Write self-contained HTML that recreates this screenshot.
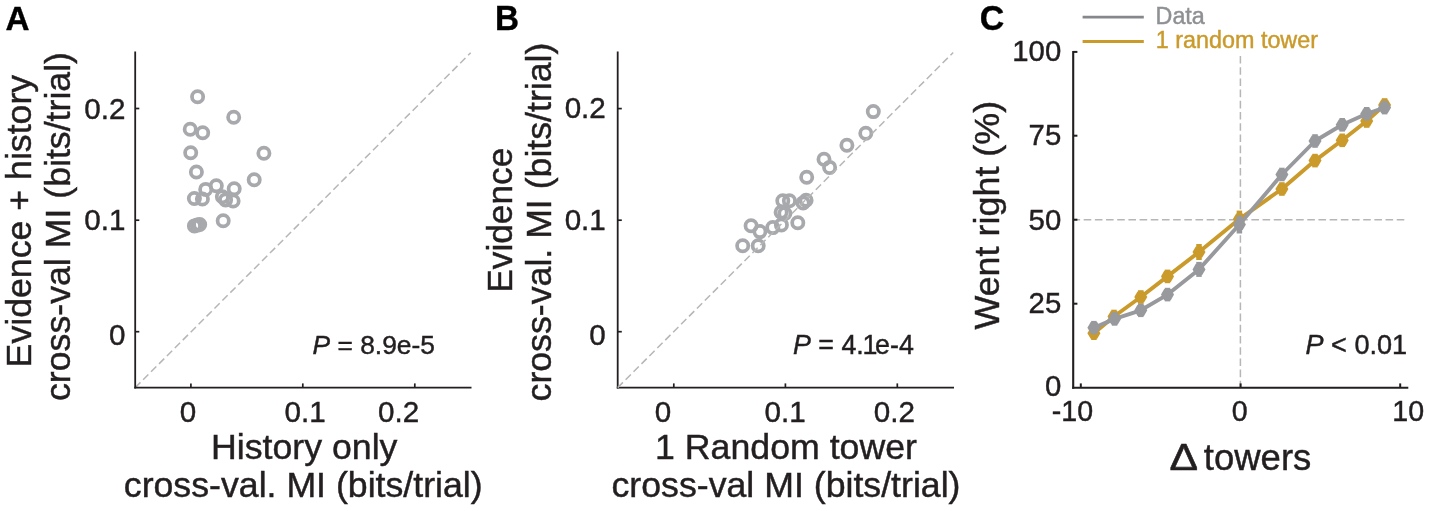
<!DOCTYPE html>
<html><head><meta charset="utf-8"><title>Figure</title>
<style>
html,body{margin:0;padding:0;background:#fff;}
svg{display:block;font-family:"Liberation Sans",sans-serif;}
</style></head><body>
<svg width="1429" height="511" viewBox="0 0 1429 511">
<rect width="1429" height="511" fill="#fff"/>
<text font-size="33.3" font-weight="bold" fill="#000" stroke="#000" stroke-width="0.35" transform="translate(5.6 29.9) scale(1 1.01)">A</text>
<line x1="135.2" y1="387.6" x2="470.7" y2="52.7" stroke="#b6b6b6" stroke-width="1.5" stroke-dasharray="7.4 3.8"/>
<line x1="135.2" y1="51.5" x2="135.2" y2="388.5" stroke="#231f20" stroke-width="1.8"/>
<line x1="134.3" y1="387.6" x2="471.5" y2="387.6" stroke="#231f20" stroke-width="1.8"/>
<line x1="135.2" y1="108.5" x2="139.3" y2="108.5" stroke="#231f20" stroke-width="1.7"/>
<line x1="135.2" y1="220.2" x2="139.3" y2="220.2" stroke="#231f20" stroke-width="1.7"/>
<line x1="135.2" y1="331.7" x2="139.3" y2="331.7" stroke="#231f20" stroke-width="1.7"/>
<line x1="190.9" y1="387.6" x2="190.9" y2="383.4" stroke="#231f20" stroke-width="1.7"/>
<line x1="302.8" y1="387.6" x2="302.8" y2="383.4" stroke="#231f20" stroke-width="1.7"/>
<line x1="414.8" y1="387.6" x2="414.8" y2="383.4" stroke="#231f20" stroke-width="1.7"/>
<text x="125.5" y="119.2" font-size="29.6" text-anchor="end" font-weight="normal" fill="#231f20" stroke="#231f20" stroke-width="0.45">0.2</text>
<text x="125.5" y="229.9" font-size="29.6" text-anchor="end" font-weight="normal" fill="#231f20" stroke="#231f20" stroke-width="0.45">0.1</text>
<text x="125.5" y="345" font-size="29.6" text-anchor="end" font-weight="normal" fill="#231f20" stroke="#231f20" stroke-width="0.45">0</text>
<text x="188" y="422" font-size="29.6" text-anchor="middle" font-weight="normal" fill="#231f20" stroke="#231f20" stroke-width="0.45">0</text>
<text x="305.1" y="421.6" font-size="29.6" text-anchor="middle" font-weight="normal" fill="#231f20" stroke="#231f20" stroke-width="0.45">0.1</text>
<text x="398.6" y="421.6" font-size="29.6" text-anchor="middle" font-weight="normal" fill="#231f20" stroke="#231f20" stroke-width="0.45">0.2</text>
<text x="304.25" y="459.2" font-size="35.7" text-anchor="middle" font-weight="normal" fill="#231f20" stroke="#231f20" stroke-width="0.45">History only</text>
<text x="303.25" y="497.3" font-size="35.7" text-anchor="middle" font-weight="normal" fill="#231f20" stroke="#231f20" stroke-width="0.45">cross-val. MI (bits/trial)</text>
<text x="31.5" y="221.1" font-size="35.7" text-anchor="middle" font-weight="normal" fill="#231f20" stroke="#231f20" stroke-width="0.45" transform="rotate(-90 31.5 221.1)">Evidence + history</text>
<text x="70" y="226.5" font-size="35.7" text-anchor="middle" font-weight="normal" fill="#231f20" stroke="#231f20" stroke-width="0.45" transform="rotate(-90 70 226.5)">cross-val MI (bits/trial)</text>
<text x="312.6" y="354.4" font-size="26.35" text-anchor="start" font-weight="normal" fill="#231f20" stroke="#231f20" stroke-width="0.45"><tspan font-style="italic">P</tspan> = 8.9e-5</text>
<circle cx="197.6" cy="96.8" r="5.62" fill="none" stroke="#a7a9ac" stroke-width="3.75"/>
<circle cx="233.7" cy="117.2" r="5.62" fill="none" stroke="#a7a9ac" stroke-width="3.75"/>
<circle cx="190.2" cy="129.3" r="5.62" fill="none" stroke="#a7a9ac" stroke-width="3.75"/>
<circle cx="202.7" cy="132.7" r="5.62" fill="none" stroke="#a7a9ac" stroke-width="3.75"/>
<circle cx="190.7" cy="152.8" r="5.62" fill="none" stroke="#a7a9ac" stroke-width="3.75"/>
<circle cx="263.9" cy="153.2" r="5.62" fill="none" stroke="#a7a9ac" stroke-width="3.75"/>
<circle cx="196.4" cy="172.0" r="5.62" fill="none" stroke="#a7a9ac" stroke-width="3.75"/>
<circle cx="254.2" cy="179.8" r="5.62" fill="none" stroke="#a7a9ac" stroke-width="3.75"/>
<circle cx="216.3" cy="185.8" r="5.62" fill="none" stroke="#a7a9ac" stroke-width="3.75"/>
<circle cx="205.7" cy="189.4" r="5.62" fill="none" stroke="#a7a9ac" stroke-width="3.75"/>
<circle cx="234.2" cy="188.8" r="5.62" fill="none" stroke="#a7a9ac" stroke-width="3.75"/>
<circle cx="194.4" cy="198.5" r="5.62" fill="none" stroke="#a7a9ac" stroke-width="3.75"/>
<circle cx="202.4" cy="199.0" r="5.62" fill="none" stroke="#a7a9ac" stroke-width="3.75"/>
<circle cx="222.4" cy="196.8" r="5.62" fill="none" stroke="#a7a9ac" stroke-width="3.75"/>
<circle cx="225.6" cy="199.9" r="5.62" fill="none" stroke="#a7a9ac" stroke-width="3.75"/>
<circle cx="233.1" cy="201.0" r="5.62" fill="none" stroke="#a7a9ac" stroke-width="3.75"/>
<circle cx="223.2" cy="220.7" r="5.62" fill="none" stroke="#a7a9ac" stroke-width="3.75"/>
<circle cx="194.4" cy="225.9" r="5.62" fill="none" stroke="#a7a9ac" stroke-width="3.75"/>
<circle cx="197.2" cy="225.1" r="5.62" fill="none" stroke="#a7a9ac" stroke-width="3.75"/>
<circle cx="199.7" cy="224.5" r="5.62" fill="none" stroke="#a7a9ac" stroke-width="3.75"/>
<text font-size="33.3" font-weight="bold" fill="#000" stroke="#000" stroke-width="0.35" transform="translate(494.9 29.6) scale(1 1.045)">B</text>
<line x1="617.7" y1="51.5" x2="617.7" y2="388.5" stroke="#231f20" stroke-width="1.8"/>
<line x1="616.8" y1="387.6" x2="954" y2="387.6" stroke="#231f20" stroke-width="1.8"/>
<line x1="617.7" y1="108.6" x2="621.8" y2="108.6" stroke="#231f20" stroke-width="1.7"/>
<line x1="617.7" y1="220.2" x2="621.8" y2="220.2" stroke="#231f20" stroke-width="1.7"/>
<line x1="617.7" y1="331.7" x2="621.8" y2="331.7" stroke="#231f20" stroke-width="1.7"/>
<line x1="673.8" y1="387.6" x2="673.8" y2="383.4" stroke="#231f20" stroke-width="1.7"/>
<line x1="785.4" y1="387.6" x2="785.4" y2="383.4" stroke="#231f20" stroke-width="1.7"/>
<line x1="897.3" y1="387.6" x2="897.3" y2="383.4" stroke="#231f20" stroke-width="1.7"/>
<text x="605.8" y="118.4" font-size="29.6" text-anchor="end" font-weight="normal" fill="#231f20" stroke="#231f20" stroke-width="0.45">0.2</text>
<text x="605.8" y="229.9" font-size="29.6" text-anchor="end" font-weight="normal" fill="#231f20" stroke="#231f20" stroke-width="0.45">0.1</text>
<text x="605.8" y="345" font-size="29.6" text-anchor="end" font-weight="normal" fill="#231f20" stroke="#231f20" stroke-width="0.45">0</text>
<text x="663" y="421.6" font-size="29.6" text-anchor="middle" font-weight="normal" fill="#231f20" stroke="#231f20" stroke-width="0.45">0</text>
<text x="785.1" y="421.6" font-size="29.6" text-anchor="middle" font-weight="normal" fill="#231f20" stroke="#231f20" stroke-width="0.45">0.1</text>
<text x="894.3" y="421.6" font-size="29.6" text-anchor="middle" font-weight="normal" fill="#231f20" stroke="#231f20" stroke-width="0.45">0.2</text>
<text x="786" y="459.2" font-size="35.7" text-anchor="middle" font-weight="normal" fill="#231f20" stroke="#231f20" stroke-width="0.45">1 Random tower</text>
<text x="786" y="497.3" font-size="35.7" text-anchor="middle" font-weight="normal" fill="#231f20" stroke="#231f20" stroke-width="0.45">cross-val MI (bits/trial)</text>
<text x="512" y="220.2" font-size="35.3" text-anchor="middle" font-weight="normal" fill="#231f20" stroke="#231f20" stroke-width="0.45" transform="rotate(-90 512 220.2)">Evidence</text>
<text x="551" y="222" font-size="35.7" text-anchor="middle" font-weight="normal" fill="#231f20" stroke="#231f20" stroke-width="0.45" transform="rotate(-90 551 222)">cross-val. MI (bits/trial)</text>
<text x="793" y="353.7" font-size="26.8" text-anchor="start" font-weight="normal" fill="#231f20" stroke="#231f20" stroke-width="0.45"><tspan font-style="italic">P</tspan> = 4.<tspan dx="-1.2">1</tspan><tspan dx="-2.4">e-4</tspan></text>
<circle cx="742.7" cy="245.7" r="5.62" fill="none" stroke="#a7a9ac" stroke-width="3.75"/>
<circle cx="758.2" cy="245.7" r="5.62" fill="none" stroke="#a7a9ac" stroke-width="3.75"/>
<circle cx="751.1" cy="225.8" r="5.62" fill="none" stroke="#a7a9ac" stroke-width="3.75"/>
<circle cx="759.9" cy="231.6" r="5.62" fill="none" stroke="#a7a9ac" stroke-width="3.75"/>
<circle cx="772.8" cy="227.6" r="5.62" fill="none" stroke="#a7a9ac" stroke-width="3.75"/>
<circle cx="781.4" cy="224.9" r="5.62" fill="none" stroke="#a7a9ac" stroke-width="3.75"/>
<circle cx="797.8" cy="222.8" r="5.62" fill="none" stroke="#a7a9ac" stroke-width="3.75"/>
<circle cx="781.1" cy="212.2" r="5.62" fill="none" stroke="#a7a9ac" stroke-width="3.75"/>
<circle cx="784.9" cy="213.5" r="5.62" fill="none" stroke="#a7a9ac" stroke-width="3.75"/>
<circle cx="782.8" cy="200.8" r="5.62" fill="none" stroke="#a7a9ac" stroke-width="3.75"/>
<circle cx="789.4" cy="200.8" r="5.62" fill="none" stroke="#a7a9ac" stroke-width="3.75"/>
<circle cx="803.1" cy="202.9" r="5.62" fill="none" stroke="#a7a9ac" stroke-width="3.75"/>
<circle cx="806.1" cy="200.3" r="5.62" fill="none" stroke="#a7a9ac" stroke-width="3.75"/>
<circle cx="806.7" cy="177.2" r="5.62" fill="none" stroke="#a7a9ac" stroke-width="3.75"/>
<circle cx="824.0" cy="159.2" r="5.62" fill="none" stroke="#a7a9ac" stroke-width="3.75"/>
<circle cx="829.6" cy="167.4" r="5.62" fill="none" stroke="#a7a9ac" stroke-width="3.75"/>
<circle cx="846.9" cy="145.3" r="5.62" fill="none" stroke="#a7a9ac" stroke-width="3.75"/>
<circle cx="865.8" cy="133.2" r="5.62" fill="none" stroke="#a7a9ac" stroke-width="3.75"/>
<circle cx="873.3" cy="111.6" r="5.62" fill="none" stroke="#a7a9ac" stroke-width="3.75"/>
<line x1="617.7" y1="387.6" x2="953.2" y2="52.5" stroke="#b6b6b6" stroke-width="1.5" stroke-dasharray="7.4 3.8"/>
<text font-size="33.9" font-weight="bold" fill="#000" stroke="#000" stroke-width="0.35" transform="translate(979.7 30.3) scale(1 1.045)">C</text>
<line x1="1082.6" y1="17.1" x2="1143.8" y2="17.1" stroke="#85878a" stroke-width="2.8"/>
<line x1="1082.6" y1="41.5" x2="1143.8" y2="41.5" stroke="#ca9a2b" stroke-width="2.8"/>
<text x="1155.6" y="23.5" font-size="23.3" text-anchor="start" font-weight="normal" fill="#8e9093" stroke="#8e9093" stroke-width="0.45">Data</text>
<text x="1155.8" y="47.9" font-size="23.35" text-anchor="start" font-weight="normal" fill="#ca9a2b" stroke="#ca9a2b" stroke-width="0.45">1 random tower</text>
<line x1="1240.4" y1="56" x2="1240.4" y2="387" stroke="#b6b6b6" stroke-width="1.5" stroke-dasharray="7.6 3.6"/>
<line x1="1074" y1="219.65" x2="1404.6" y2="219.65" stroke="#b6b6b6" stroke-width="1.5" stroke-dasharray="7.6 3.58" stroke-dashoffset="1.5"/>
<line x1="1073.2" y1="50.9" x2="1073.2" y2="388.7" stroke="#231f20" stroke-width="2.1"/>
<line x1="1072.2" y1="387.7" x2="1408.3" y2="387.7" stroke="#231f20" stroke-width="2.1"/>
<line x1="1073.2" y1="51.9" x2="1077.4" y2="51.9" stroke="#231f20" stroke-width="2.0"/>
<line x1="1073.2" y1="135.7" x2="1077.4" y2="135.7" stroke="#231f20" stroke-width="2.0"/>
<line x1="1073.2" y1="219.7" x2="1077.4" y2="219.7" stroke="#231f20" stroke-width="2.0"/>
<line x1="1073.2" y1="303.7" x2="1077.4" y2="303.7" stroke="#231f20" stroke-width="2.0"/>
<line x1="1080.8" y1="387.6" x2="1080.8" y2="383.4" stroke="#231f20" stroke-width="2.0"/>
<line x1="1240.6" y1="387.6" x2="1240.6" y2="383.4" stroke="#231f20" stroke-width="2.0"/>
<line x1="1400.2" y1="387.6" x2="1400.2" y2="383.4" stroke="#231f20" stroke-width="2.0"/>
<text x="1061.2" y="60.7" font-size="29.3" text-anchor="end" font-weight="normal" fill="#231f20" stroke="#231f20" stroke-width="0.45">100</text>
<text x="1061.2" y="144.9" font-size="29.3" text-anchor="end" font-weight="normal" fill="#231f20" stroke="#231f20" stroke-width="0.45">75</text>
<text x="1061.2" y="229.5" font-size="29.3" text-anchor="end" font-weight="normal" fill="#231f20" stroke="#231f20" stroke-width="0.45">50</text>
<text x="1061.2" y="312.8" font-size="29.3" text-anchor="end" font-weight="normal" fill="#231f20" stroke="#231f20" stroke-width="0.45">25</text>
<text x="1061.2" y="396.4" font-size="29.3" text-anchor="end" font-weight="normal" fill="#231f20" stroke="#231f20" stroke-width="0.45">0</text>
<text x="1072.5" y="420.8" font-size="28.6" text-anchor="middle" font-weight="normal" fill="#231f20" stroke="#231f20" stroke-width="0.45">-10</text>
<text x="1239.7" y="420.8" font-size="28.6" text-anchor="middle" font-weight="normal" fill="#231f20" stroke="#231f20" stroke-width="0.45">0</text>
<text x="1408.2" y="420.8" font-size="28.6" text-anchor="middle" font-weight="normal" fill="#231f20" stroke="#231f20" stroke-width="0.45">10</text>
<text x="999.3" y="215.2" font-size="35.9" text-anchor="middle" font-weight="normal" fill="#231f20" stroke="#231f20" stroke-width="0.45" transform="rotate(-90 999.3 215.2)">Went right (%)</text>
<text x="0" y="0" font-size="36.5" fill="#231f20" stroke="#231f20" stroke-width="0.6" transform="translate(1169.6 469.5) scale(1.17 1)">&#916;</text>
<text x="1203.8" y="469.5" font-size="36.5" text-anchor="start" font-weight="normal" fill="#231f20" stroke="#231f20" stroke-width="0.45">towers</text>
<text x="1305.5" y="354.3" font-size="27.1" text-anchor="start" font-weight="normal" fill="#231f20" stroke="#231f20" stroke-width="0.45"><tspan font-style="italic">P</tspan> &lt; 0.01</text>
<polyline fill="none" stroke="#ca9a2b" stroke-width="3.9" stroke-linejoin="round" points="1093.9,333.2 1114.0,316.5 1140.8,297.0 1167.5,276.4 1199.0,252.0 1239.4,219.1 1281.9,189.0 1315,160.6 1342.2,140.3 1366.7,121 1384.6,105"/>
<line x1="1093.9" y1="326.4" x2="1093.9" y2="340.0" stroke="#ca9a2b" stroke-width="5.5"/>
<polygon points="1100.4,333.2 1097.2,338.8 1090.7,338.8 1087.4,333.2 1090.7,327.6 1097.2,327.6" fill="#ca9a2b"/>
<line x1="1114.0" y1="309.7" x2="1114.0" y2="323.3" stroke="#ca9a2b" stroke-width="5.5"/>
<polygon points="1120.5,316.5 1117.2,322.1 1110.8,322.1 1107.5,316.5 1110.8,310.9 1117.2,310.9" fill="#ca9a2b"/>
<line x1="1140.8" y1="290.2" x2="1140.8" y2="303.8" stroke="#ca9a2b" stroke-width="5.5"/>
<polygon points="1147.3,297.0 1144.0,302.6 1137.5,302.6 1134.3,297.0 1137.5,291.4 1144.0,291.4" fill="#ca9a2b"/>
<line x1="1167.5" y1="269.59999999999997" x2="1167.5" y2="283.2" stroke="#ca9a2b" stroke-width="5.5"/>
<polygon points="1174.0,276.4 1170.8,282.0 1164.2,282.0 1161.0,276.4 1164.2,270.8 1170.8,270.8" fill="#ca9a2b"/>
<line x1="1199.0" y1="244.0" x2="1199.0" y2="260.0" stroke="#ca9a2b" stroke-width="5.5"/>
<polygon points="1205.5,252.0 1202.2,257.6 1195.8,257.6 1192.5,252.0 1195.8,246.4 1202.2,246.4" fill="#ca9a2b"/>
<line x1="1239.4" y1="210.6" x2="1239.4" y2="227.6" stroke="#ca9a2b" stroke-width="5.5"/>
<polygon points="1245.9,219.1 1242.7,224.7 1236.2,224.7 1232.9,219.1 1236.2,213.5 1242.7,213.5" fill="#ca9a2b"/>
<line x1="1281.9" y1="182.2" x2="1281.9" y2="195.8" stroke="#ca9a2b" stroke-width="5.5"/>
<polygon points="1288.4,189.0 1285.2,194.6 1278.7,194.6 1275.4,189.0 1278.7,183.4 1285.2,183.4" fill="#ca9a2b"/>
<line x1="1315" y1="153.79999999999998" x2="1315" y2="167.4" stroke="#ca9a2b" stroke-width="5.5"/>
<polygon points="1321.5,160.6 1318.2,166.2 1311.8,166.2 1308.5,160.6 1311.8,155.0 1318.2,155.0" fill="#ca9a2b"/>
<line x1="1342.2" y1="133.5" x2="1342.2" y2="147.10000000000002" stroke="#ca9a2b" stroke-width="5.5"/>
<polygon points="1348.7,140.3 1345.5,145.9 1339.0,145.9 1335.7,140.3 1339.0,134.7 1345.5,134.7" fill="#ca9a2b"/>
<line x1="1366.7" y1="114.2" x2="1366.7" y2="127.8" stroke="#ca9a2b" stroke-width="5.5"/>
<polygon points="1373.2,121.0 1370.0,126.6 1363.5,126.6 1360.2,121.0 1363.5,115.4 1370.0,115.4" fill="#ca9a2b"/>
<line x1="1384.6" y1="98.2" x2="1384.6" y2="111.8" stroke="#ca9a2b" stroke-width="5.5"/>
<polygon points="1391.1,105.0 1387.8,110.6 1381.3,110.6 1378.1,105.0 1381.3,99.4 1387.8,99.4" fill="#ca9a2b"/>
<polyline fill="none" stroke="#97999c" stroke-width="3.9" stroke-linejoin="round" points="1093.9,327.7 1114.6,318.9 1140.8,310.3 1167.5,294.6 1199.0,269.4 1239.4,224.5 1281.9,174.5 1315,141 1342.2,124.8 1366.7,113.8 1384.6,107.6"/>
<line x1="1093.9" y1="320.9" x2="1093.9" y2="334.5" stroke="#97999c" stroke-width="5.5"/>
<polygon points="1100.4,327.7 1097.2,333.3 1090.7,333.3 1087.4,327.7 1090.7,322.1 1097.2,322.1" fill="#97999c"/>
<line x1="1114.6" y1="312.09999999999997" x2="1114.6" y2="325.7" stroke="#97999c" stroke-width="5.5"/>
<polygon points="1121.1,318.9 1117.8,324.5 1111.3,324.5 1108.1,318.9 1111.3,313.3 1117.8,313.3" fill="#97999c"/>
<line x1="1140.8" y1="303.5" x2="1140.8" y2="317.1" stroke="#97999c" stroke-width="5.5"/>
<polygon points="1147.3,310.3 1144.0,315.9 1137.5,315.9 1134.3,310.3 1137.5,304.7 1144.0,304.7" fill="#97999c"/>
<line x1="1167.5" y1="287.8" x2="1167.5" y2="301.40000000000003" stroke="#97999c" stroke-width="5.5"/>
<polygon points="1174.0,294.6 1170.8,300.2 1164.2,300.2 1161.0,294.6 1164.2,289.0 1170.8,289.0" fill="#97999c"/>
<line x1="1199.0" y1="261.9" x2="1199.0" y2="276.9" stroke="#97999c" stroke-width="5.5"/>
<polygon points="1205.5,269.4 1202.2,275.0 1195.8,275.0 1192.5,269.4 1195.8,263.8 1202.2,263.8" fill="#97999c"/>
<line x1="1239.4" y1="215.5" x2="1239.4" y2="233.5" stroke="#97999c" stroke-width="5.5"/>
<polygon points="1245.9,224.5 1242.7,230.1 1236.2,230.1 1232.9,224.5 1236.2,218.9 1242.7,218.9" fill="#97999c"/>
<line x1="1281.9" y1="167.7" x2="1281.9" y2="181.3" stroke="#97999c" stroke-width="5.5"/>
<polygon points="1288.4,174.5 1285.2,180.1 1278.7,180.1 1275.4,174.5 1278.7,168.9 1285.2,168.9" fill="#97999c"/>
<line x1="1315" y1="134.2" x2="1315" y2="147.8" stroke="#97999c" stroke-width="5.5"/>
<polygon points="1321.5,141.0 1318.2,146.6 1311.8,146.6 1308.5,141.0 1311.8,135.4 1318.2,135.4" fill="#97999c"/>
<line x1="1342.2" y1="118.0" x2="1342.2" y2="131.6" stroke="#97999c" stroke-width="5.5"/>
<polygon points="1348.7,124.8 1345.5,130.4 1339.0,130.4 1335.7,124.8 1339.0,119.2 1345.5,119.2" fill="#97999c"/>
<line x1="1366.7" y1="107.0" x2="1366.7" y2="120.6" stroke="#97999c" stroke-width="5.5"/>
<polygon points="1373.2,113.8 1370.0,119.4 1363.5,119.4 1360.2,113.8 1363.5,108.2 1370.0,108.2" fill="#97999c"/>
<line x1="1384.6" y1="100.8" x2="1384.6" y2="114.39999999999999" stroke="#97999c" stroke-width="5.5"/>
<polygon points="1391.1,107.6 1387.8,113.2 1381.3,113.2 1378.1,107.6 1381.3,102.0 1387.8,102.0" fill="#97999c"/>
</svg>
</body></html>
